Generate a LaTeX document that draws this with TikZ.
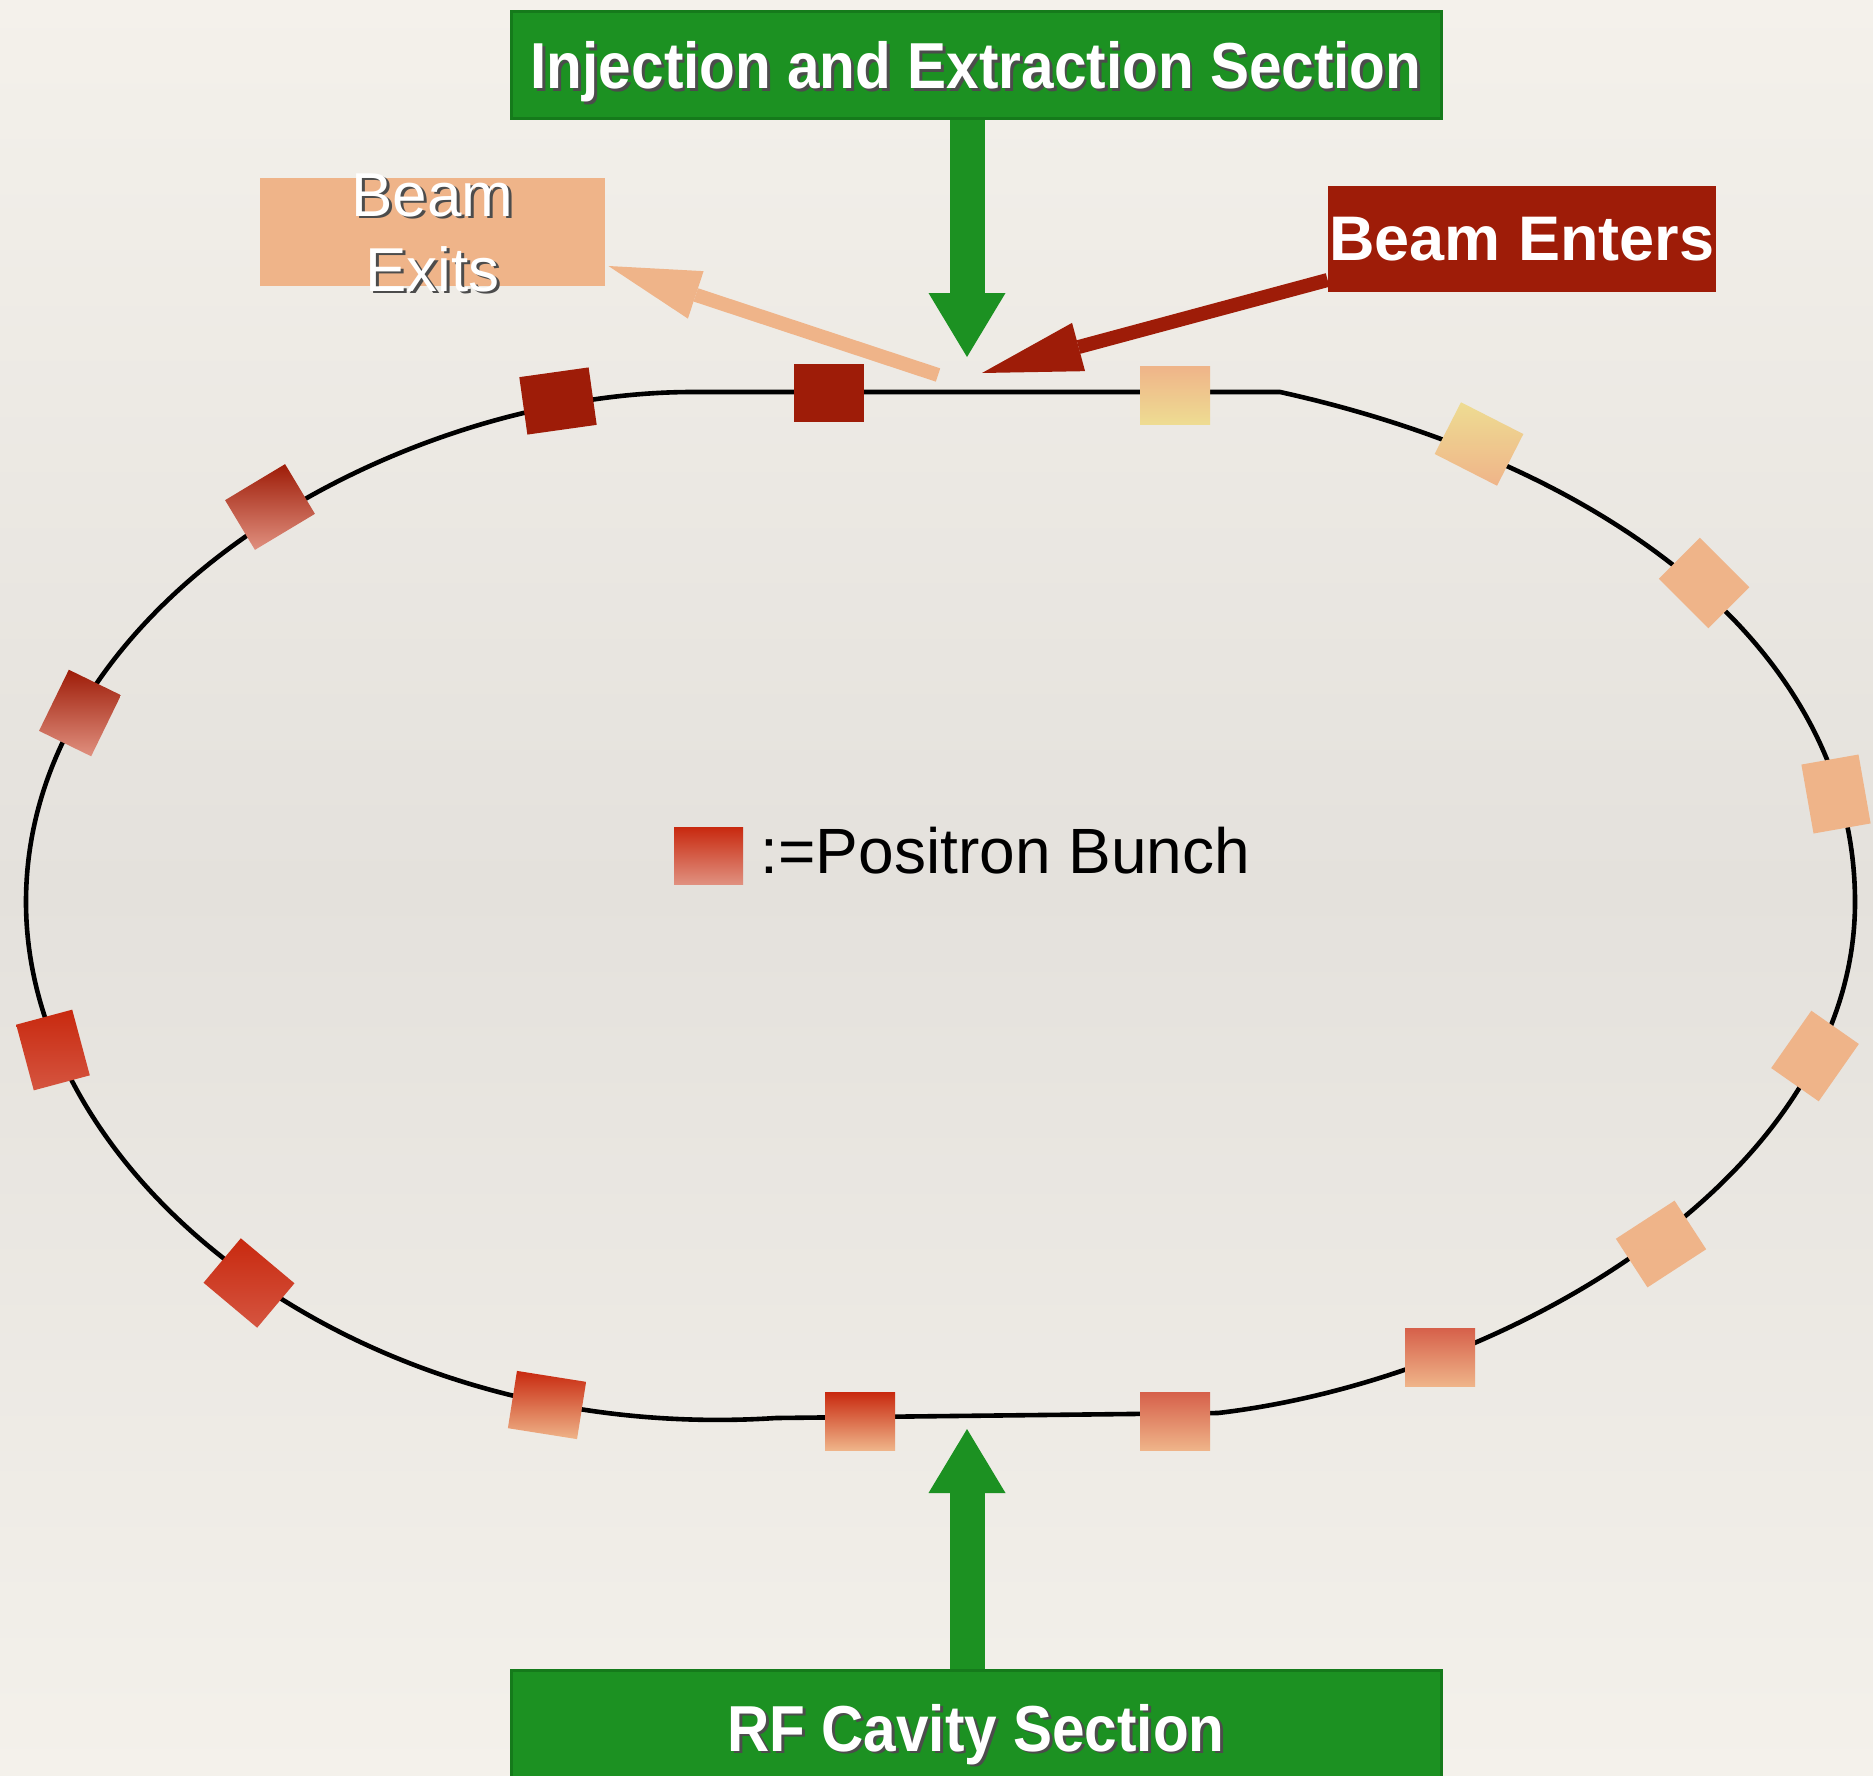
\documentclass[tikz,border=0pt]{standalone}
\usepackage{fontspec}
\setmainfont{Liberation Sans}
\newfontfamily\narrowsans[FakeStretch=0.9]{Liberation Sans}
\usetikzlibrary{arrows.meta,positioning}

\definecolor{secgreen}{HTML}{1C9122}
\definecolor{secgreendark}{HTML}{157A1B}
\definecolor{beamred}{HTML}{9E1C08}
\definecolor{peach}{HTML}{EFB489}
\definecolor{straw}{HTML}{EEDC92}
\definecolor{hotred}{HTML}{C8290F}
\definecolor{brick}{HTML}{D6604A}
\definecolor{coral}{HTML}{D55540}
\definecolor{rose}{HTML}{E0907F}
\definecolor{paper}{HTML}{F4F1EB}
\definecolor{papermid}{HTML}{E4E1DC}

\newcommand\shadowed[1]{\leavevmode\rlap{\kern1.4pt\raisebox{-1.4pt}{\textcolor{black!70}{#1}}}#1}

\begin{document}
\begin{tikzpicture}[x=0.5pt, y=-0.5pt,
    sectionbox/.style={fill=secgreen, draw=secgreendark, line width=1.5pt, inner sep=0pt,
      minimum width=465pt, text height=23pt, text depth=0pt, text=white,
      font=\narrowsans\fontsize{32.5}{38}\selectfont\bfseries},
    exitbox/.style={fill=peach, inner sep=0pt, minimum width=172.5pt, minimum height=54pt,
      text=white, font=\fontsize{31}{37.5}\selectfont},
    enterbox/.style={fill=beamred, inner sep=0pt, minimum width=194pt, minimum height=53pt,
      text=white, font=\fontsize{31.5}{36}\selectfont\bfseries},
    bunch/.style={inner sep=0pt, minimum width=35pt, minimum height=29pt},
    ring/.style={draw=black, line width=2.3pt},
    feed/.style={draw=secgreen, line width=17.5pt, -{Triangle[length=32pt,width=38.5pt,line width=0pt]}},
    exitarrow/.style={draw=peach, line width=7pt, -{Triangle[length=46pt,width=25pt,line width=0pt]}},
    enterarrow/.style={draw=beamred, line width=7pt, -{Triangle[length=50pt,width=25pt,line width=0pt]}},
    legendtext/.style={inner sep=0pt, font=\fontsize{32}{38}\selectfont}]

  % paper
  \useasboundingbox (0,0) rectangle (1873,1776);
  \fill[top color=paper, bottom color=paper, middle color=papermid] (0,0) rectangle (1873,1776);

  % storage ring
  \draw[ring] (693,392) -- (1280,392)
    .. controls (1610,465) and (1855,650) .. (1855,902)
    .. controls (1855,1180) and (1500,1380) .. (1218,1413)
    -- (776,1418)
    .. controls (360,1445) and (26,1180) .. (26,902)
    .. controls (26,600) and (400,392) .. (693,392) -- cycle;

  % sections
  \node[sectionbox, minimum height=53.5pt] (inj) at (976,65.5) {\shadowed{Injection and Extraction Section}};
  \node[sectionbox, minimum height=57.5pt] (rf) at (976,1728) {\shadowed{RF Cavity Section}};
  \coordinate (injtip) at (967,357);
  \coordinate (rftip) at (967,1429);
  \draw[feed] (inj.south -| injtip) -- (injtip);
  \draw[feed] (rf.north -| rftip) -- (rftip);

  % beam in and out
  \node[exitbox] (exits) at (432.5,232) {\smash{\raisebox{-9.5pt}{\begin{tabular}{@{}c@{}}\shadowed{Beam}\\\shadowed{Exits}\end{tabular}}}};
  \node[enterbox] (enters) at (1522,239) {Beam Enters};
  \coordinate (exitfrom) at (938,375);
  \coordinate (entertip) at (982,373);
  \draw[exitarrow] (exitfrom) -- ([xshift=1.5pt,yshift=-17pt]exits.east);
  \draw[enterarrow] ([yshift=-20.5pt]enters.west) -- (entertip);

  % bunches
  \node[bunch, fill=beamred, rotate=8] (b1) at (558,401) {};
  \node[bunch, fill=beamred] (b2) at (829,393) {};
  \node[bunch, top color=peach, bottom color=straw] (b3) at (1175,395) {};
  \node[bunch, top color=straw, bottom color=peach, rotate=-27] (b4) at (1479,444) {};
  \node[bunch, fill=peach, rotate=-45] (b5) at (1704,583) {};
  \node[bunch, fill=peach, rotate=10, minimum width=29pt, minimum height=35pt] (b6) at (1836,794) {};
  \node[bunch, fill=peach, rotate=55] (b7) at (1815,1056) {};
  \node[bunch, fill=peach, rotate=33] (b8) at (1661,1244) {};
  \node[bunch, top color=brick, bottom color=peach] (b9) at (1440,1357) {};
  \node[bunch, top color=brick, bottom color=peach] (b10) at (1175,1421) {};
  \node[bunch, top color=hotred, bottom color=peach] (b11) at (860,1421) {};
  \node[bunch, top color=hotred, bottom color=peach, rotate=-9] (b12) at (547,1405) {};
  \node[bunch, top color=hotred, bottom color=coral, rotate=-40] (b13) at (249,1283) {};
  \node[bunch, top color=hotred, bottom color=coral, rotate=15, minimum width=29pt, minimum height=34pt] (b14) at (53,1050) {};
  \node[bunch, top color=beamred, bottom color=rose, rotate=-26, minimum width=29pt, minimum height=34pt] (b15) at (80,713) {};
  \node[bunch, top color=beamred, bottom color=rose, rotate=31] (b16) at (270,507) {};

  % legend
  \node[bunch, top color=hotred, bottom color=rose, minimum height=28.5pt, minimum width=34.5pt] (legend) at (708.5,855.5) {};
  \node[legendtext, right=8.5pt of legend, yshift=2.5pt] (legendlbl) {:=Positron Bunch};
\end{tikzpicture}
\end{document}
